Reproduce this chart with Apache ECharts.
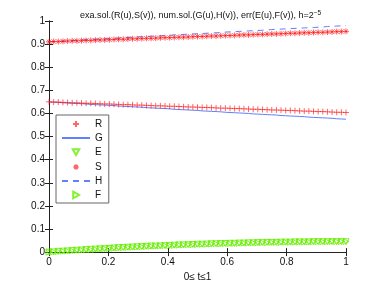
<!DOCTYPE html>
<html><head><meta charset="utf-8">
<script src="https://cdn.jsdelivr.net/npm/echarts@6/dist/echarts.min.js"></script>
<style>html,body{margin:0;padding:0;background:#fff}#c{width:382px;height:287px}</style>
</head><body><div id="c"></div>
<script>
const h = 1/64;
const tGrid = Array.from({length:65},(_,i)=>i*h);
const R = [0.650,0.649,0.649,0.648,0.647,0.646,0.646,0.645,0.644,0.644,0.643,0.642,0.641,0.641,0.640,0.639,0.638,0.638,0.637,0.636,0.636,0.635,0.634,0.633,0.633,0.632,0.631,0.631,0.630,0.629,0.628,0.628,0.627,0.626,0.626,0.625,0.624,0.623,0.623,0.622,0.621,0.621,0.620,0.619,0.618,0.618,0.617,0.616,0.615,0.615,0.614,0.613,0.613,0.612,0.611,0.610,0.610,0.609,0.608,0.608,0.607,0.606,0.605,0.605,0.604];
const G = [0.650,0.649,0.648,0.646,0.645,0.644,0.643,0.642,0.641,0.639,0.638,0.637,0.636,0.635,0.634,0.632,0.631,0.630,0.629,0.628,0.627,0.625,0.624,0.623,0.622,0.621,0.620,0.618,0.617,0.616,0.615,0.614,0.613,0.611,0.610,0.609,0.608,0.607,0.605,0.604,0.603,0.602,0.601,0.600,0.598,0.597,0.596,0.595,0.594,0.593,0.591,0.590,0.589,0.588,0.587,0.586,0.584,0.583,0.582,0.581,0.580,0.579,0.577,0.576,0.575];
const E = [0.000,0.001,0.003,0.004,0.005,0.007,0.008,0.009,0.011,0.012,0.013,0.014,0.015,0.016,0.018,0.019,0.020,0.021,0.022,0.023,0.024,0.025,0.026,0.026,0.027,0.028,0.029,0.030,0.031,0.031,0.032,0.033,0.034,0.034,0.035,0.036,0.036,0.037,0.037,0.038,0.038,0.039,0.039,0.040,0.040,0.041,0.041,0.042,0.042,0.042,0.043,0.043,0.043,0.044,0.044,0.044,0.044,0.045,0.045,0.045,0.045,0.045,0.045,0.045,0.045];
const S = [0.910,0.911,0.911,0.912,0.913,0.914,0.914,0.915,0.916,0.916,0.917,0.918,0.918,0.919,0.920,0.921,0.921,0.922,0.923,0.923,0.924,0.925,0.925,0.926,0.927,0.928,0.928,0.929,0.930,0.930,0.931,0.932,0.933,0.933,0.934,0.935,0.935,0.936,0.937,0.937,0.938,0.939,0.940,0.940,0.941,0.942,0.942,0.943,0.944,0.944,0.945,0.946,0.947,0.947,0.948,0.949,0.949,0.950,0.951,0.951,0.952,0.953,0.954,0.954,0.955];
const H = [0.910,0.911,0.912,0.913,0.914,0.915,0.917,0.918,0.919,0.920,0.921,0.922,0.923,0.924,0.925,0.926,0.928,0.929,0.930,0.931,0.932,0.933,0.934,0.935,0.936,0.937,0.938,0.940,0.941,0.942,0.943,0.944,0.945,0.946,0.947,0.948,0.949,0.950,0.952,0.953,0.954,0.955,0.956,0.957,0.958,0.959,0.960,0.961,0.963,0.964,0.965,0.966,0.967,0.968,0.969,0.970,0.971,0.972,0.973,0.974,0.976,0.977,0.978,0.979,0.980];
const F = [0.000,0.001,0.002,0.004,0.005,0.006,0.008,0.009,0.010,0.011,0.012,0.014,0.015,0.016,0.017,0.018,0.019,0.020,0.021,0.022,0.023,0.024,0.025,0.026,0.027,0.028,0.028,0.029,0.030,0.031,0.032,0.032,0.033,0.034,0.034,0.035,0.036,0.036,0.037,0.037,0.038,0.038,0.039,0.039,0.040,0.040,0.041,0.041,0.042,0.042,0.042,0.043,0.043,0.043,0.044,0.044,0.044,0.045,0.045,0.045,0.045,0.046,0.046,0.046,0.046];
const legendNames = ['R','G','E','S','H','F'];

const pair = arr => arr.map((v,i)=>[tGrid[i], v]);
const PLUS = 'path://M0,-1L0,1M-1,0L1,0';
const STAR = 'path://M0,-1L0,1M-1,0L1,0M-0.7,-0.7L0.7,0.7M-0.7,0.7L0.7,-0.7';
const BOX = 'M-14,-5L-14,-5M14,5L14,5';
const L_PLUS = 'path://' + BOX + 'M0,-3L0,3M-3,0L3,0';
const L_STAR = 'path://' + BOX + 'M0,-2.5L0,2.5M-2.5,0L2.5,0M-1.8,-1.8L1.8,1.8M-1.8,1.8L1.8,-1.8';
const L_TDOWN = 'path://' + BOX + 'M-3.3,-2.8L3.3,-2.8L0,3Z';
const L_TRIGHT = 'path://' + BOX + 'M-2.8,-3.3L3,0L-2.8,3.3Z';
const font = 'Liberation Sans, Arial, sans-serif';
const red = 'rgba(255,0,0,0.75)';
const green = '#66ee00';
const blue = '#5f80ff';

const chart = echarts.init(document.getElementById('c'), null, {renderer:'canvas'});
const axisCommon = {
  type:'value', min:0, max:1,
  axisLine:{show:true, lineStyle:{color:'#222', width:1}},
  axisTick:{show:true, inside:true, length:4, lineStyle:{color:'#222'}},
  splitLine:{show:false},
};
const iconMap = {R:L_PLUS, S:L_STAR, E:L_TDOWN, F:L_TRIGHT};
chart.setOption({
  animation:false,
  backgroundColor:'#fff',
  title:{
    text:'{a|exa.sol.(R(u),S(v)), num.sol.(G(u),H(v)), err(E(u),F(v)), h=2}{s|−5}',
    left:75, top:5,
    textStyle:{fontWeight:'normal', rich:{a:{fontFamily:font,fontSize:9,fontWeight:'normal',color:'#111'},s:{fontFamily:font,fontSize:6.5,fontWeight:'normal',color:'#111',verticalAlign:'top',padding:[0,0,5,0]}}}
  },
  grid:{left:49, right:36, top:21, bottom:31},
  xAxis:[
    Object.assign({}, axisCommon, {interval:0.2, position:'bottom', name:'0≤ t≤1', nameLocation:'middle', nameGap:17,
      nameTextStyle:{fontFamily:font,fontSize:10,color:'#111'},
      axisLabel:{fontFamily:font,fontSize:10,color:'#111',margin:5, formatter:v=>String(v)}}),
    Object.assign({}, axisCommon, {interval:0.2, position:'top', axisLabel:{show:false}})
  ],
  yAxis:[
    Object.assign({}, axisCommon, {interval:0.1, position:'left',
      axisLabel:{fontFamily:font,fontSize:10,color:'#111',margin:4, formatter:v=>String(+v.toFixed(1))}}),
    Object.assign({}, axisCommon, {interval:0.1, position:'right', axisLabel:{show:false}})
  ],
  legend:{
    orient:'vertical', left:56, top:115,
    backgroundColor:'#fff', borderColor:'#666', borderWidth:1, borderRadius:0,
    padding:[3,6,2,5], itemWidth:28, itemHeight:10, itemGap:3,
    textStyle:{fontFamily:font,fontSize:10,color:'#111'},
    data:legendNames.map(n => iconMap[n] ? {name:n, icon:iconMap[n]} : {name:n, itemStyle:{opacity:0}})
  },
  series:[
    {name:'G', type:'line', data:pair(G), symbol:'none', lineStyle:{color:blue,width:1}, itemStyle:{color:blue}, z:3},
    {name:'H', type:'line', data:pair(H), symbol:'none', lineStyle:{color:blue,width:1,type:[6,5]}, itemStyle:{color:blue}, z:3},
    {name:'R', type:'scatter', data:pair(R), symbol:PLUS, symbolSize:6, itemStyle:{color:'transparent',borderColor:red,borderWidth:1}, z:4},
    {name:'S', type:'scatter', data:pair(S), symbol:STAR, symbolSize:6, itemStyle:{color:'transparent',borderColor:red,borderWidth:1}, z:4},
    {name:'E', type:'scatter', data:pair(E), symbol:'triangle', symbolRotate:180, symbolSize:6, itemStyle:{color:'transparent',borderColor:green,borderWidth:1}, z:4},
    {name:'F', type:'scatter', data:pair(F), symbol:'triangle', symbolRotate:-90, symbolSize:6, itemStyle:{color:'transparent',borderColor:green,borderWidth:1}, z:4}
  ]
});
</script></body></html>
